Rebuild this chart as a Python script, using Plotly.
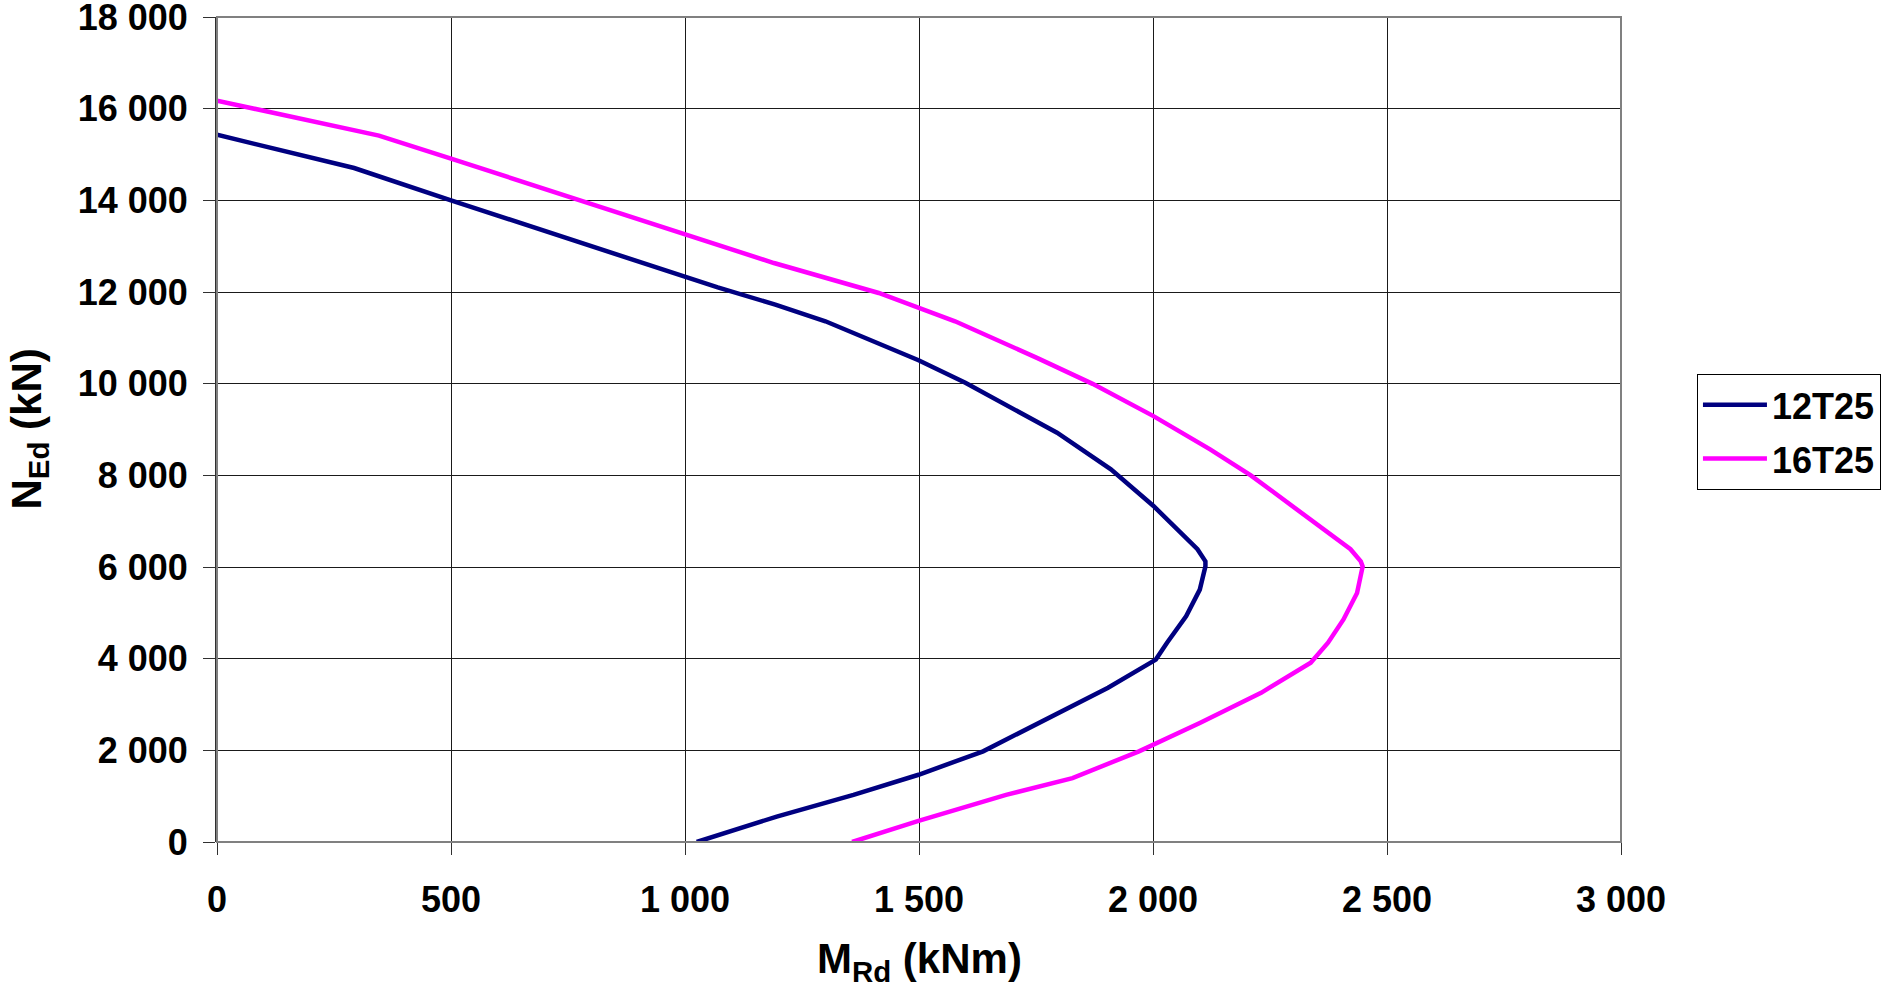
import plotly.graph_objects as go

# ---- data ----
m_12t25 = [0, 293, 500, 1000, 1070, 1193, 1300, 1499, 1599, 1795, 1910, 2001, 2095, 2112, 2112,
           2100, 2071, 2030, 2006, 1904, 1773, 1637, 1499, 1360, 1196, 1025]
n_12t25 = [15430, 14705, 14000, 12342, 12100, 11724, 11361, 10512, 10018, 8929, 8130, 7332, 6388, 6123, 6014,
           5507, 4928, 4348, 3980, 3365, 2671, 1978, 1467, 1029, 555, 0]

m_16t25 = [0, 346, 500, 774, 1000, 1190, 1414, 1499, 1577, 1752, 1871, 2001, 2122, 2209, 2296, 2422, 2444,
           2448, 2436, 2407, 2374, 2337, 2231, 2100, 1970, 1828, 1686, 1499, 1357]
n_16t25 = [16175, 15411, 14909, 14015, 13273, 12632, 11978, 11651, 11361, 10563, 9996, 9292, 8566, 8000, 7332,
           6388, 6123, 6014, 5435, 4855, 4348, 3912, 3255, 2598, 1978, 1394, 1029, 460, 0]

series_names = ["12T25", "16T25"]

x_tickvals = [0, 500, 1000, 1500, 2000, 2500, 3000]
x_ticktext = ["0", "500", "1 000", "1 500", "2 000", "2 500", "3 000"]
y_tickvals = [0, 2000, 4000, 6000, 8000, 10000, 12000, 14000, 16000, 18000]
y_ticktext = ["0", "2 000", "4 000", "6 000", "8 000", "10 000", "12 000", "14 000", "16 000", "18 000"]
x_title = "M<sub>Rd</sub> (kNm)"
y_title = "N<sub>Ed</sub> (kN)"

FONT = "Liberation Sans, Arial, sans-serif"

fig = go.Figure()
fig.add_trace(go.Scatter(x=m_12t25, y=n_12t25, mode="lines", name=series_names[0],
                         legendgroup="a", line=dict(color="#000080", width=4.5)))
fig.add_trace(go.Scatter(x=m_16t25, y=n_16t25, mode="lines", name=series_names[1],
                         legendgroup="b", line=dict(color="#FF00FF", width=4.5)))

title_font = dict(family=FONT, size=42, color="black", weight="bold")

fig.update_layout(
    width=1888, height=989,
    margin=dict(l=217, r=267, t=17, b=147, autoexpand=False),
    paper_bgcolor="white", plot_bgcolor="white",
    font=dict(family=FONT, size=36, color="black", weight="bold"),
    showlegend=True,
    legend=dict(x=1.0541, y=0.5674, xanchor="left", yanchor="top",
                bordercolor="black", borderwidth=1, bgcolor="white",
                itemwidth=64, tracegroupgap=4, traceorder="grouped",
                font=dict(family=FONT, size=36, color="black", weight="bold")),
    shapes=[dict(type="rect", xref="paper", yref="paper", x0=0, x1=1, y0=0, y1=1,
                 line=dict(color="#808080", width=2), layer="above")],
    annotations=[
        dict(text=x_title, xref="paper", yref="paper", x=0.5, y=0, xanchor="center",
             yanchor="middle", yshift=-119, showarrow=False, font=title_font),
        dict(text=y_title, xref="paper", yref="paper", x=0, y=0.5, xanchor="center",
             yanchor="middle", xshift=-188, textangle=-90, showarrow=False, font=title_font),
    ],
)

fig.update_xaxes(
    range=[0, 3000], tickvals=x_tickvals, ticktext=x_ticktext, automargin=False,
    showgrid=True, gridcolor="#1a1a1a", gridwidth=1, zeroline=False,
    showline=False, ticks="outside", ticklen=12, tickcolor="#303030", tickwidth=1,
    ticklabelstandoff=14, ticklabeloverflow="allow",
    tickfont=dict(family=FONT, size=36, color="black", weight="bold"),
)
fig.update_yaxes(
    range=[0, 18000], tickvals=y_tickvals, ticktext=y_ticktext, automargin=False,
    showgrid=True, gridcolor="#1a1a1a", gridwidth=1, zeroline=False,
    showline=True, linecolor="#303030", linewidth=2, mirror=False,
    ticks="outside", ticklen=12, tickcolor="#303030", tickwidth=1,
    ticklabelstandoff=8, ticklabeloverflow="allow",
    tickfont=dict(family=FONT, size=36, color="black", weight="bold"),
)

fig.write_html("out.html", config={"displayModeBar": False},
               post_script="document.body.style.margin='0';document.body.style.overflow='hidden';")
